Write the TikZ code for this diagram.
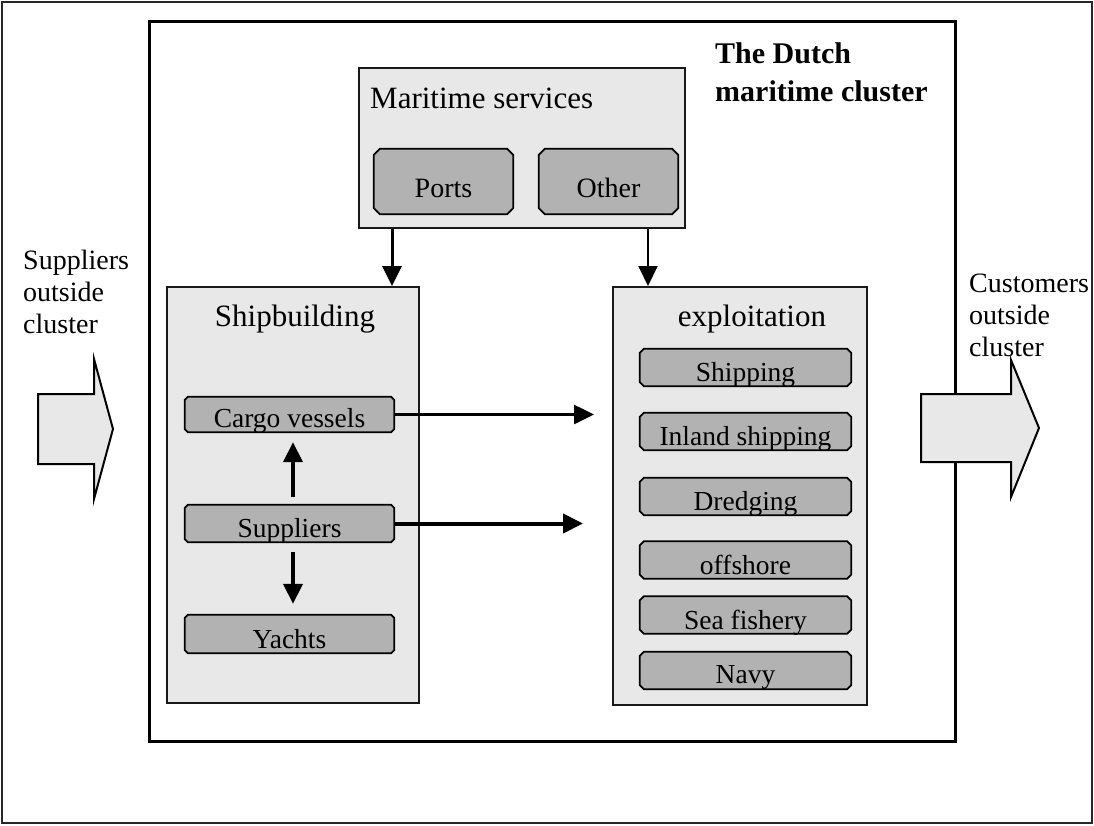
\documentclass[tikz,border=0pt]{standalone}
\usepackage{fontspec}
\setmainfont{Liberation Serif}
\usetikzlibrary{arrows.meta}

\definecolor{panel}{HTML}{E8E8E8}
\definecolor{item}{HTML}{B2B2B2}

\tikzset{
  frame/.style={draw=black!85, line width=2pt, fill=none, inner sep=0pt},
  cluster/.style={draw=black, line width=3pt, fill=white, inner sep=0pt},
  panelbox/.style={draw=black!90, line width=2pt, fill=panel, inner sep=0pt},
  itembox/.style={rectangle, draw=none, fill=none, inner sep=0pt,
    minimum width=211pt, minimum height=37pt},
  bigitem/.style={itembox, minimum width=139pt, minimum height=65pt},
  itemline/.style={draw=black, line width=1.8pt, fill=item, line join=miter},
  itemtext/.style={anchor=base, inner sep=0pt, font=\fontsize{27.5}{32}\selectfont},
  headtext/.style={anchor=base, inner sep=0pt, font=\fontsize{31}{37}\selectfont},
  sidetext/.style={anchor=base west, inner sep=0pt, font=\fontsize{28}{32}\selectfont},
  titletext/.style={anchor=base west, inner sep=0pt, font=\bfseries\fontsize{30}{38}\selectfont},
  flow/.style={-{Triangle[length=20pt,width=19pt]}, line width=2.6pt},
  bigarrow/.style={draw=black, line width=2pt, fill=panel, line join=miter},
}

% outline of a grey item box with cut corners: #1 node name, #2 size of the cut
\newcommand{\bevelitem}[2]{%
  \path[itemline] ([xshift=#2]#1.south west) -- ([xshift=-#2]#1.south east)
    -- ([yshift=#2]#1.south east) -- ([yshift=-#2]#1.north east)
    -- ([xshift=-#2]#1.north east) -- ([xshift=#2]#1.north west)
    -- ([yshift=-#2]#1.north west) -- ([yshift=#2]#1.south west) -- cycle;}

\begin{document}
\begin{tikzpicture}[x=1pt,y=-1pt]
\useasboundingbox (0,0) rectangle (1094,825);

% frames
\node[frame, minimum width=1090pt, minimum height=821pt] (outer) at (547,412.5) {};
\node[cluster, minimum width=806pt, minimum height=720pt] (cluster) at (552,381) {};
\node[titletext] (title1) at (715,63) {The Dutch};
\node[titletext] (title2) at (715,101) {maritime cluster};

% maritime services
\node[panelbox, minimum width=326pt, minimum height=160pt] (maritime) at (522,148) {};
\node[anchor=base west, inner sep=0pt, font=\fontsize{31}{37}\selectfont] (maritimetx) at (370,108) {Maritime services};
\node[bigitem] (ports) at (443.5,181.5) {};
\bevelitem{ports}{6pt}
\node[headtext, font=\fontsize{28}{32}\selectfont] (portstx) at ([yshift=17pt]ports.south) {Ports};
\node[bigitem] (other) at (608.5,181.5) {};
\bevelitem{other}{6pt}
\node[headtext, font=\fontsize{28}{32}\selectfont] (othertx) at ([yshift=17pt]other.south) {Other};

% shipbuilding
\node[panelbox, minimum width=252pt, minimum height=416pt] (ship) at (293,495) {};
\node[headtext] (shiptx) at (295,326) {Shipbuilding};
\node[itembox, minimum width=209pt, minimum height=35pt] (cargo) at (289.5,414.5) {};
\bevelitem{cargo}{3pt}
\node[itemtext] (cargotx) at ([yshift=4.5pt]cargo.south) {Cargo vessels};
\node[itembox, minimum width=209pt, minimum height=37pt] (supp) at (289.5,523.5) {};
\bevelitem{supp}{3pt}
\node[itemtext] (supptx) at ([yshift=4.5pt]supp.south) {Suppliers};
\node[itembox, minimum width=209pt, minimum height=38pt] (yachts) at (289.5,634) {};
\bevelitem{yachts}{3pt}
\node[itemtext] (yachtstx) at ([yshift=4.5pt]yachts.south) {Yachts};

% exploitation
\node[panelbox, minimum width=254pt, minimum height=418pt] (expl) at (740,496) {};
\node[headtext] (expltx) at (752,326) {exploitation};
\node[itembox] (shipping) at (745.5,367.5) {};
\bevelitem{shipping}{4pt}
\node[itemtext] (shippingtx) at ([yshift=4.5pt]shipping.south) {Shipping};
\node[itembox] (inland) at (745.5,431.5) {};
\bevelitem{inland}{4pt}
\node[itemtext] (inlandtx) at ([yshift=4.5pt]inland.south) {Inland shipping};
\node[itembox] (dredging) at (745.5,496.5) {};
\bevelitem{dredging}{4pt}
\node[itemtext] (dredgingtx) at ([yshift=4.5pt]dredging.south) {Dredging};
\node[itembox] (offshore) at (745.5,560) {};
\bevelitem{offshore}{4pt}
\node[itemtext] (offshoretx) at ([yshift=4.5pt]offshore.south) {offshore};
\node[itembox] (fishery) at (745.5,615) {};
\bevelitem{fishery}{4pt}
\node[itemtext] (fisherytx) at ([yshift=4.5pt]fishery.south) {Sea fishery};
\node[itembox] (navy) at (745.5,670.5) {};
\bevelitem{navy}{4pt}
\node[itemtext] (navytx) at ([yshift=6pt]navy.south) {Navy};

% flows between the parts of the cluster
\draw[flow, line width=3pt] ([xshift=34pt]maritime.south west) -- ([xshift=34pt]maritime.south west |- ship.north);
\draw[flow, line width=2pt] ([xshift=36pt]expl.north west |- maritime.south) -- ([xshift=36pt]expl.north west);
\draw[flow] (cargo.east) -- ([xshift=-18pt]expl.west |- cargo.east);
\draw[flow, line width=4pt] (supp.east) -- ([xshift=-29pt]expl.west |- supp.east);
\draw[flow, line width=4pt] ([xshift=3.5pt,yshift=8pt]supp.north) -- ([xshift=3.5pt,yshift=-10pt]cargo.south);
\draw[flow, line width=4pt] ([xshift=3.5pt,yshift=-10pt]supp.south) -- ([xshift=3.5pt,yshift=11pt]yachts.north);

% inputs and outputs of the cluster
\node[sidetext] (in1) at (23,269) {Suppliers};
\node[sidetext] (in2) at (23,301) {outside};
\node[sidetext] (in3) at (23,333) {cluster};
\draw[bigarrow] (38,394) -- (94,394) -- (94,359) -- (113,429) -- (94,499) -- (94,464) -- (38,464) -- cycle;

\draw[bigarrow] (921,394) -- (1011,394) -- (1011,360) -- (1039,428) -- (1011,497) -- (1011,462) -- (921,462) -- cycle;
\node[sidetext] (out1) at (969,292) {Customers};
\node[sidetext] (out2) at (969,324) {outside};
\node[sidetext] (out3) at (969,356) {cluster};
\end{tikzpicture}
\end{document}
